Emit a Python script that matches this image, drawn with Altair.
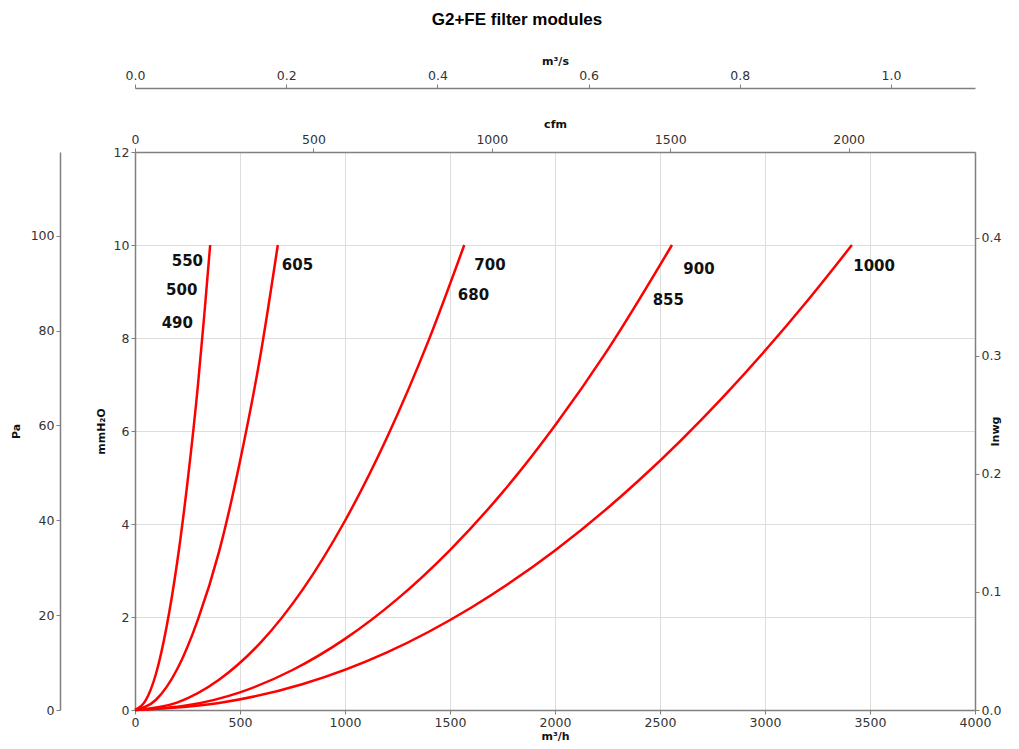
import altair as alt
import pandas as pd

# ---- data (airflow m³/h -> pressure drop mmH2O) ----
q_550 = [0, 50, 100, 150, 200, 250, 300, 330, 358]
mm_550 = [0, 0.2, 0.78, 1.78, 3.15, 4.9, 7.0, 8.5, 10.0]
q_605 = [0, 100, 200, 300, 400, 500, 600, 680]
mm_605 = [0, 0.22, 0.87, 1.95, 3.4, 5.35, 7.7, 10.0]
q_700 = [0, 200, 400, 600, 800, 1000, 1200, 1400, 1568]
mm_700 = [0, 0.16, 0.65, 1.46, 2.6, 4.07, 5.86, 7.97, 10.0]
q_900 = [0, 250, 500, 750, 1000, 1250, 1500, 1750, 2000, 2250, 2557]
mm_900 = [0, 0.1, 0.38, 0.86, 1.53, 2.39, 3.44, 4.68, 6.12, 7.74, 10.0]
q_1000 = [0, 400, 800, 1200, 1600, 2000, 2400, 2800, 3200, 3414]
mm_1000 = [0, 0.15, 0.56, 1.24, 2.2, 3.43, 4.94, 6.73, 8.79, 10.0]

label_text = ["550", "500", "490", "605", "700", "680", "900", "855", "1000"]
label_q = [175, 148, 127, 699, 1616, 1537, 2611, 2465, 3420]
label_mm = [9.66, 9.03, 8.33, 9.58, 9.56, 8.92, 9.49, 8.81, 9.55]

m3h_ticks = [0, 500, 1000, 1500, 2000, 2500, 3000, 3500, 4000]
mm_ticks = [0, 2, 4, 6, 8, 10, 12]
pa_ticks = [0, 20, 40, 60, 80, 100]
inwg_ticks = [0.0, 0.1, 0.2, 0.3, 0.4]
cfm_ticks = [0, 500, 1000, 1500, 2000]
m3s_ticks = [0.0, 0.2, 0.4, 0.6, 0.8, 1.0]

Q_MAX = 4000.0
MM_MAX = 12.0
PA_MAX = MM_MAX * 9.80665
INWG_MAX = MM_MAX / 25.4
CFM_MAX = Q_MAX / 1.69901
M3S_MAX = Q_MAX / 3600.0

rows = []
for name, qs, ms in [("550", q_550, mm_550), ("605", q_605, mm_605),
                     ("700", q_700, mm_700), ("900", q_900, mm_900),
                     ("1000", q_1000, mm_1000)]:
    for q, m in zip(qs, ms):
        rows.append({"curve": name, "q": q, "mm": m})
df = pd.DataFrame(rows)
labels_df = pd.DataFrame({"t": label_text, "q": label_q, "mm": label_mm})

FONT = "DejaVu Sans"
ax = dict(labelFont=FONT, labelFontSize=12.5, labelColor="#333333",
          titleFont=FONT, titleFontSize=11, titleFontWeight="bold",
          titleColor="#111111", domainColor="#808080", domainWidth=1.5,
          tickColor="#808080", tickSize=4, tickWidth=1, labelFlush=False)

xs_main = alt.Scale(domain=[0, Q_MAX], nice=False, zero=False)
ys_main = alt.Scale(domain=[0, MM_MAX], nice=False, zero=False)

curves = alt.Chart(df).mark_line(color="#ff0000", strokeWidth=2.5,
                                 interpolate="monotone").encode(
    x=alt.X("q:Q", scale=xs_main,
            axis=alt.Axis(orient="bottom", values=m3h_ticks, format="d",
                          title="m³/h", grid=True, gridColor="#dddddd",
                          gridWidth=1, titlePadding=2, **ax)),
    y=alt.Y("mm:Q", scale=ys_main,
            axis=alt.Axis(orient="left", values=mm_ticks, format="d",
                          title="mmH₂O", grid=True, gridColor="#dddddd",
                          gridWidth=1, titlePadding=7, **ax)),
    detail="curve:N",
)

labels = alt.Chart(labels_df).mark_text(
    align="left", baseline="middle", font=FONT, fontSize=15,
    fontWeight="bold", color="#111111").encode(
    x=alt.X("q:Q", scale=xs_main, axis=None),
    y=alt.Y("mm:Q", scale=ys_main, axis=None),
    text="t:N",
)

pa = alt.Chart(pd.DataFrame({"v": [0]})).mark_point(opacity=0).encode(
    y=alt.Y("v:Q", scale=alt.Scale(domain=[0, PA_MAX], nice=False, zero=False),
            axis=alt.Axis(orient="left", offset=75, values=pa_ticks, format="d",
                          title="Pa", titlePadding=9, **ax)))

inwg = alt.Chart(pd.DataFrame({"v": [0]})).mark_point(opacity=0).encode(
    y=alt.Y("v:Q", scale=alt.Scale(domain=[0, INWG_MAX], nice=False, zero=False),
            axis=alt.Axis(orient="right", values=inwg_ticks, format=".1f",
                          title="Inwg", titleAngle=270, titlePadding=0, **ax)))

cfm = alt.Chart(pd.DataFrame({"v": [0]})).mark_point(opacity=0).encode(
    x=alt.X("v:Q", scale=alt.Scale(domain=[0, CFM_MAX], nice=False, zero=False),
            axis=alt.Axis(orient="top", values=cfm_ticks, format="d",
                          title="cfm", titlePadding=4, **ax)))

m3s = alt.Chart(pd.DataFrame({"v": [0]})).mark_point(opacity=0).encode(
    x=alt.X("v:Q", scale=alt.Scale(domain=[0, M3S_MAX], nice=False, zero=False),
            axis=alt.Axis(orient="top", offset=64, values=m3s_ticks, format=".1f",
                          title="m³/s", titlePadding=3, **ax)))

chart = alt.layer(curves, labels, pa, inwg, cfm, m3s).resolve_scale(
    x="independent", y="independent"
).properties(
    width=840, height=558,
    title=alt.TitleParams("G2+FE filter modules", font="Liberation Sans",
                          fontSize=17, fontWeight="bold", color="#000000",
                          anchor="middle", dx=-38, offset=26),
    autosize=alt.AutoSizeParams(type="none"),
    padding={"left": 127, "top": 144, "right": 36, "bottom": 36},
).configure_view(stroke="#808080", strokeWidth=1.5).configure(background="white")

chart.save("out.html", embed_options={"renderer": "svg", "actions": False})
